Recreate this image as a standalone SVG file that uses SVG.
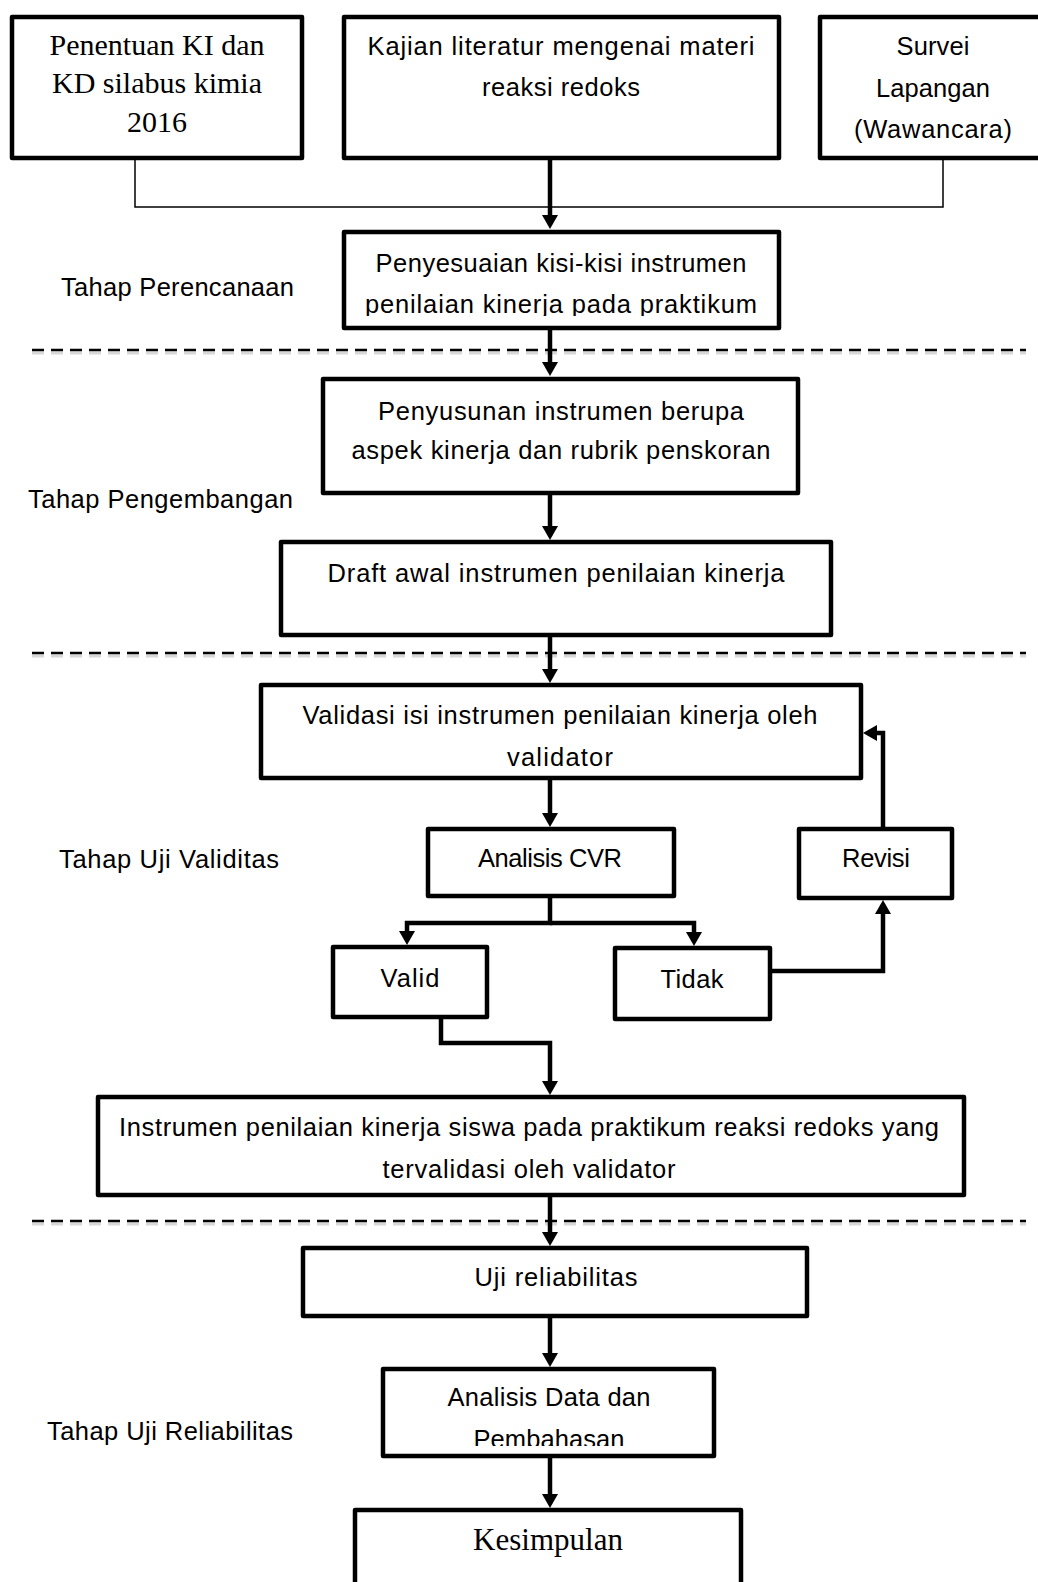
<svg xmlns="http://www.w3.org/2000/svg" width="1038" height="1582" viewBox="0 0 1038 1582">
<style>
.box{fill:#fff;stroke:#000;stroke-width:4.5;stroke-linejoin:round}
.c{font-family:"Liberation Sans",Arial,sans-serif;font-size:25.5px;text-anchor:middle;fill:#000}
.l{font-family:"Liberation Sans",Arial,sans-serif;font-size:25.5px;fill:#000}
.t{font-family:"Liberation Serif","Times New Roman",serif;font-size:31px;text-anchor:middle;fill:#000}
.t30{font-size:30px}
.thin{fill:none;stroke:#000;stroke-width:1.5}
.arr{fill:none;stroke:#000;stroke-width:4.5;marker-end:url(#ah)}
.dash{fill:none;stroke:#000;stroke-width:2.5;stroke-dasharray:12 7}
.dsh{fill:none;stroke:#d8d8d8;stroke-width:3;stroke-dasharray:12 7}
</style>
<defs>
<marker id="ah" markerUnits="userSpaceOnUse" markerWidth="18" markerHeight="18" refX="3" refY="8" orient="auto">
<path d="M0,0 L14,8 L0,16 Z" fill="#000"/>
</marker>
<clipPath id="clip4"><rect x="344" y="232" width="435" height="84"/></clipPath>
<clipPath id="clipAD"><rect x="383" y="1369" width="331" height="77"/></clipPath>
</defs>

<g id="separators">
<line class="dsh" x1="32" y1="353" x2="1026" y2="353"/>
<line class="dash" x1="32" y1="350" x2="1026" y2="350"/>
<line class="dsh" x1="32" y1="656" x2="1026" y2="656"/>
<line class="dash" x1="32" y1="653" x2="1026" y2="653"/>
<line class="dsh" x1="32" y1="1224" x2="1026" y2="1224"/>
<line class="dash" x1="32" y1="1221" x2="1026" y2="1221"/>
</g>

<g id="connectors">
<path class="thin" d="M135,160 V207 H943 V160"/>
<path class="arr" d="M550,160 V218"/>
<path class="arr" d="M550,330 V365"/>
<path class="arr" d="M550,495 V529"/>
<path class="arr" d="M550,637 V672"/>
<path class="arr" d="M550,780 V816"/>
<path class="arr" d="M550,898 V923 H407 V934"/>
<path class="arr" d="M550,923 H694 V935"/>
<path class="arr" d="M883,827 V733 H874"/>
<path class="arr" d="M772,971 H883 V911"/>
<path class="arr" d="M441,1019 V1043 H550 V1084"/>
<path class="arr" d="M550,1197 V1235"/>
<path class="arr" d="M550,1318 V1356"/>
<path class="arr" d="M550,1458 V1497"/>
</g>

<g id="labels">
<text class="l" x="61" y="296" textLength="233" lengthAdjust="spacing">Tahap Perencanaan</text>
<text class="l" x="28" y="508" textLength="265" lengthAdjust="spacing">Tahap Pengembangan</text>
<text class="l" x="59" y="868" textLength="220" lengthAdjust="spacing">Tahap Uji Validitas</text>
<text class="l" x="47" y="1440" textLength="246" lengthAdjust="spacing">Tahap Uji Reliabilitas</text>
</g>

<g id="n-ki-kd">
<rect class="box" x="12" y="17" width="290" height="141"/>
<text class="t t30" x="157" y="55">Penentuan KI dan</text>
<text class="t t30" x="157" y="93">KD silabus kimia</text>
<text class="t t30" x="157" y="132">2016</text>
</g>

<g id="n-kajian">
<rect class="box" x="344" y="17" width="435" height="141"/>
<text class="c" x="561" y="55" textLength="387" lengthAdjust="spacing">Kajian literatur mengenai materi</text>
<text class="c" x="561" y="96" textLength="158" lengthAdjust="spacing">reaksi redoks</text>
</g>

<g id="n-survei">
<rect class="box" x="820" y="17" width="230" height="141"/>
<text class="c" x="933" y="55" textLength="73" lengthAdjust="spacing">Survei</text>
<text class="c" x="933" y="97" textLength="114" lengthAdjust="spacing">Lapangan</text>
<text class="c" x="933" y="138" textLength="158" lengthAdjust="spacing">(Wawancara)</text>
</g>

<g id="n-penyesuaian">
<rect class="box" x="344" y="232" width="435" height="96"/>
<g clip-path="url(#clip4)">
<text class="c" x="561" y="272" textLength="371" lengthAdjust="spacing">Penyesuaian kisi-kisi instrumen</text>
<text class="c" x="561" y="313" textLength="392" lengthAdjust="spacing">penilaian kinerja pada praktikum</text>
</g>
</g>

<g id="n-penyusunan">
<rect class="box" x="323" y="379" width="475" height="114"/>
<text class="c" x="561" y="420" textLength="366" lengthAdjust="spacing">Penyusunan instrumen berupa</text>
<text class="c" x="561" y="459" textLength="419" lengthAdjust="spacing">aspek kinerja dan rubrik penskoran</text>
</g>

<g id="n-draft">
<rect class="box" x="281" y="542" width="550" height="93"/>
<text class="c" x="556" y="582" textLength="457" lengthAdjust="spacing">Draft awal instrumen penilaian kinerja</text>
</g>

<g id="n-validasi">
<rect class="box" x="261" y="685" width="600" height="93"/>
<text class="c" x="560" y="724" textLength="515" lengthAdjust="spacing">Validasi isi instrumen penilaian kinerja oleh</text>
<text class="c" x="560" y="766" textLength="106" lengthAdjust="spacing">validator</text>
</g>

<g id="n-cvr">
<rect class="box" x="428" y="829" width="246" height="67"/>
<text class="c" x="550" y="867" textLength="144" lengthAdjust="spacing">Analisis CVR</text>
</g>

<g id="n-revisi">
<rect class="box" x="799" y="829" width="153" height="69"/>
<text class="c" x="876" y="867" textLength="68" lengthAdjust="spacing">Revisi</text>
</g>

<g id="n-valid">
<rect class="box" x="333" y="947" width="154" height="70"/>
<text class="c" x="410" y="987" textLength="59" lengthAdjust="spacing">Valid</text>
</g>

<g id="n-tidak">
<rect class="box" x="615" y="948" width="155" height="71"/>
<text class="c" x="692" y="988" textLength="63" lengthAdjust="spacing">Tidak</text>
</g>

<g id="n-instrumen">
<rect class="box" x="98" y="1097" width="866" height="98"/>
<text class="c" x="529" y="1136" textLength="820" lengthAdjust="spacing">Instrumen penilaian kinerja siswa pada praktikum reaksi redoks yang</text>
<text class="c" x="529" y="1178" textLength="293" lengthAdjust="spacing">tervalidasi oleh validator</text>
</g>

<g id="n-uji">
<rect class="box" x="303" y="1248" width="504" height="68"/>
<text class="c" x="556" y="1286" textLength="163" lengthAdjust="spacing">Uji reliabilitas</text>
</g>

<g id="n-analisis-data">
<rect class="box" x="383" y="1369" width="331" height="87"/>
<g clip-path="url(#clipAD)">
<text class="c" x="549" y="1406" textLength="203" lengthAdjust="spacing">Analisis Data dan</text>
<text class="c" x="549" y="1448" textLength="151" lengthAdjust="spacing">Pembahasan</text>
</g>
</g>

<g id="n-kesimpulan">
<rect class="box" x="355" y="1510" width="386" height="100"/>
<text class="t" x="548" y="1550">Kesimpulan</text>
</g>
</svg>
